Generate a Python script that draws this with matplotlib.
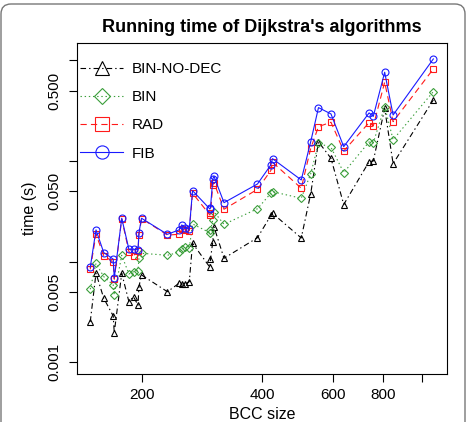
import matplotlib
matplotlib.use('Agg')
import matplotlib.pyplot as plt
from matplotlib.lines import Line2D
from matplotlib.patches import FancyBboxPatch

# BCC sizes (x, log scale) and running times in seconds (y, log scale)
bcc_size = [149, 154, 161, 170, 171, 178.5, 186, 191, 196, 197, 200,
            232, 248, 252, 257, 263, 268, 296, 297, 301, 303, 321,
            389, 420, 424, 500, 528, 552, 593, 638, 738, 756, 807, 847, 1067]

t_bin_no_dec = [0.00253, 0.00767, 0.00433, 0.00289, 0.00197, 0.00767, 0.00400, 0.00449,
                0.00369, 0.00564, 0.00738, 0.00503, 0.00610, 0.00600, 0.00600, 0.00633,
                0.01524, 0.00880, 0.01056, 0.01581, 0.0223, 0.01081, 0.01732, 0.0288,
                0.0303, 0.0172, 0.0474, 0.155, 0.1066, 0.0370, 0.0986, 0.100, 0.333,
                0.0942, 0.405]
t_bin = [0.00532, 0.00964, 0.00710, 0.00587, 0.00467, 0.01158, 0.00755, 0.00795,
         0.00814, 0.01081, 0.01212, 0.01158, 0.01240, 0.01328, 0.01409, 0.01359,
         0.0237, 0.0194, 0.0207, 0.0260, 0.0314, 0.0235, 0.0336, 0.0479,
         0.0496, 0.0427, 0.0749, 0.150, 0.137, 0.0767, 0.155, 0.152, 0.347,
         0.163, 0.490]
t_rad = [0.0084, 0.0187, 0.0115, 0.0099, 0.0067, 0.0266, 0.0126, 0.0115,
         0.0128, 0.0183, 0.0268, 0.0184, 0.0187, 0.0210, 0.0207, 0.0203,
         0.0479, 0.0291, 0.0305, 0.0579, 0.0610, 0.0332, 0.0524, 0.0806,
         0.0973, 0.0537, 0.134, 0.220, 0.243, 0.126, 0.241, 0.223, 0.607,
         0.246, 0.823]
t_fib = [0.0088, 0.0207, 0.0123, 0.0106, 0.0069, 0.0270, 0.0133, 0.0133,
         0.0131, 0.0194, 0.0270, 0.0187, 0.0207, 0.0232, 0.0215, 0.0211,
         0.0508, 0.0334, 0.0342, 0.0664, 0.0706, 0.0386, 0.0592, 0.0915,
         0.1056, 0.0649, 0.156, 0.340, 0.294, 0.139, 0.301, 0.278, 0.763,
         0.287, 1.035]

series_names = ['BIN-NO-DEC', 'BIN', 'RAD', 'FIB']
x_ticks = [200, 400, 600, 800, 1000]
x_tick_labels = ['200', '400', '600', '800', '']
y_ticks = [0.001, 0.005, 0.01, 0.05, 0.1, 0.5, 1.0]
y_tick_labels = ['0.001', '0.005', '', '0.050', '', '0.500', '']

plt.rcParams['font.family'] = ['Liberation Sans', 'DejaVu Sans']
plt.rcParams['lines.scale_dashes'] = False

styles = [
    dict(color='black', marker='^', dashes=(4, 2.2, 1, 2.2)),
    dict(color='#3a9e3a', marker='D', dashes=(1, 2)),
    dict(color='#ff1a1a', marker='s', dashes=(4.5, 3)),
    dict(color='#1a1aff', marker='o', linestyle='-'),
]
data = [t_bin_no_dec, t_bin, t_rad, t_fib]

fig = plt.figure(figsize=(4.69, 4.22), dpi=100)
ax = fig.add_axes([0.1642, 0.1137, 0.7889, 0.7844])

for ys, st in zip(data, styles):
    ms = 4.2 if st['marker'] == 'D' else 5.0
    ax.plot(bcc_size, ys, lw=0.8, markersize=ms, markerfacecolor='none',
            markeredgewidth=0.8, **st)

ax.set_xscale('log')
ax.set_yscale('log')
ax.set_xlim(138.1, 1154)
ax.set_ylim(0.000765, 1.49)

ax.set_xticks(x_ticks)
ax.set_xticklabels(x_tick_labels)
ax.set_yticks(y_ticks)
ax.set_yticklabels(y_tick_labels, rotation=90, va='center')
ax.minorticks_off()
ax.tick_params(direction='out', length=6, width=0.8, labelsize=11, pad=4)
ax.tick_params(axis='y', pad=5)
for sp in ax.spines.values():
    sp.set_linewidth(0.8)

ax.set_title("Running time of Dijkstra's algorithms", fontsize=13,
             fontweight='bold', pad=8)
ax.set_xlabel('BCC size', fontsize=11.5, labelpad=4)
ax.set_ylabel('time (s)', fontsize=11.5, labelpad=8)

handles = []
for name, st in zip(series_names, styles):
    ms = 8 if st['marker'] == 'D' else 9.5
    handles.append(Line2D([], [], lw=0.8, markersize=ms, markerfacecolor='none',
                          markeredgewidth=0.8, label=name, **st))
ax.legend(handles=handles, loc='upper left', bbox_to_anchor=(-0.008, 0.96),
          frameon=False, fontsize=11, handlelength=2.8, handletextpad=0.6,
          labelspacing=0.92, borderaxespad=0)

border = FancyBboxPatch((0.01, -1.0), 4.64, 5.18, boxstyle='round,pad=0,rounding_size=0.1',
                        transform=fig.dpi_scale_trans, facecolor='none',
                        edgecolor='#777777', linewidth=1.0, clip_on=False)
fig.patches.append(border)

fig.savefig('out.png', dpi=100)
